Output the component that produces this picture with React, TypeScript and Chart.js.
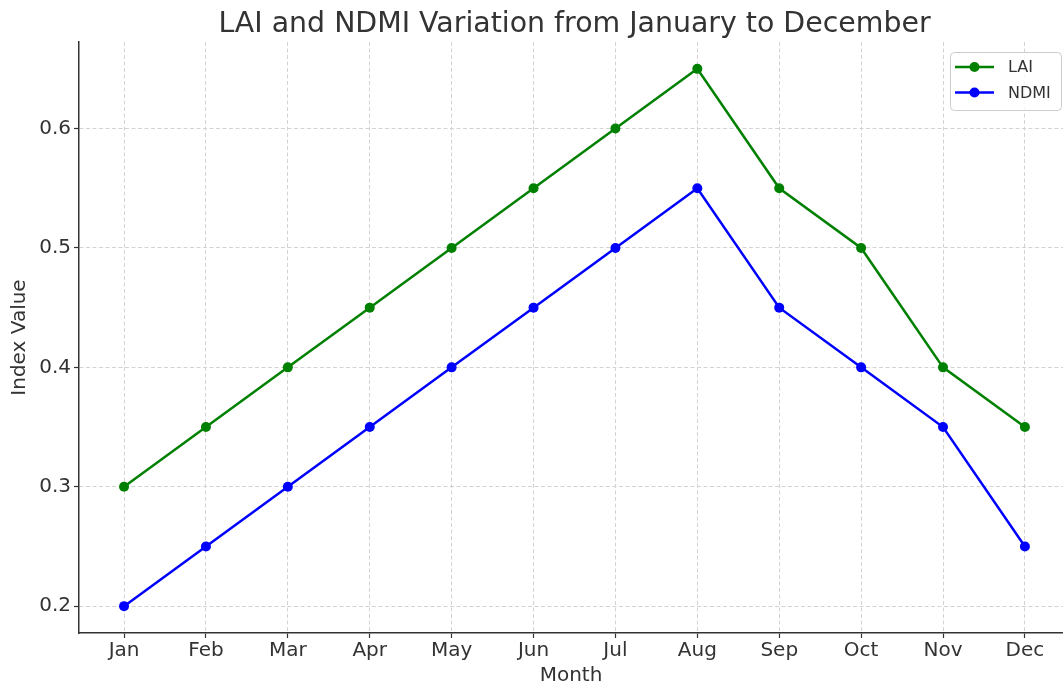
import React, { useEffect, useRef } from "react";
import { Chart, registerables } from "chart.js";

Chart.register(...registerables);

const months = ["Jan", "Feb", "Mar", "Apr", "May", "Jun", "Jul", "Aug", "Sep", "Oct", "Nov", "Dec"];
const laiValues = [0.3, 0.35, 0.4, 0.45, 0.5, 0.55, 0.6, 0.65, 0.55, 0.5, 0.4, 0.35];
const ndmiValues = [0.2, 0.25, 0.3, 0.35, 0.4, 0.45, 0.5, 0.55, 0.45, 0.4, 0.35, 0.25];
const yTickValues = [0.2, 0.3, 0.4, 0.5, 0.6];
const chartTitle = "LAI and NDMI Variation from January to December";

const FONT = "'DejaVu Sans', sans-serif";
const TEXT = "#333333";

const titlePlugin = {
  id: "mplTitle",
  afterDraw(chart: any) {
    const { ctx, chartArea } = chart;
    ctx.save();
    ctx.font = `28.4px ${FONT}`;
    ctx.fillStyle = TEXT;
    ctx.textAlign = "center";
    ctx.textBaseline = "alphabetic";
    ctx.fillText(chartTitle, (chartArea.left + 1070) / 2, 32);
    ctx.restore();
  },
};

const legendPlugin = {
  id: "mplLegend",
  afterDraw(chart: any) {
    const { ctx } = chart;
    const x0 = 950.5, y0 = 52.5, w = 111, h = 58, r = 4;
    ctx.save();
    ctx.beginPath();
    ctx.moveTo(x0 + r, y0);
    ctx.lineTo(x0 + w - r, y0);
    ctx.arcTo(x0 + w, y0, x0 + w, y0 + r, r);
    ctx.lineTo(x0 + w, y0 + h - r);
    ctx.arcTo(x0 + w, y0 + h, x0 + w - r, y0 + h, r);
    ctx.lineTo(x0 + r, y0 + h);
    ctx.arcTo(x0, y0 + h, x0, y0 + h - r, r);
    ctx.lineTo(x0, y0 + r);
    ctx.arcTo(x0, y0, x0 + r, y0, r);
    ctx.closePath();
    ctx.fillStyle = "rgba(255,255,255,0.8)";
    ctx.fill();
    ctx.strokeStyle = "#cccccc";
    ctx.lineWidth = 1;
    ctx.stroke();
    chart.data.datasets.forEach((ds: any, i: number) => {
      const cy = 67 + i * 25.5;
      ctx.strokeStyle = ds.borderColor;
      ctx.lineWidth = 2.5;
      ctx.beginPath();
      ctx.moveTo(955, cy);
      ctx.lineTo(994, cy);
      ctx.stroke();
      ctx.fillStyle = ds.borderColor;
      ctx.beginPath();
      ctx.arc(974.5, cy, 5, 0, Math.PI * 2);
      ctx.fill();
      ctx.fillStyle = TEXT;
      ctx.font = `16px ${FONT}`;
      ctx.textAlign = "left";
      ctx.textBaseline = "middle";
      ctx.fillText(ds.label, 1008, cy + 1);
    });
    ctx.restore();
  },
};

export default function App() {
  const canvasRef = useRef<HTMLCanvasElement | null>(null);

  useEffect(() => {
    document.body.style.margin = "0";
    if (!canvasRef.current) return;
    const chart = new Chart(canvasRef.current, {
      type: "line",
      data: {
        datasets: [
          {
            label: "LAI",
            data: laiValues.map((v, i) => ({ x: i, y: v })),
            borderColor: "#008000",
            backgroundColor: "#008000",
            pointBackgroundColor: "#008000",
            pointBorderWidth: 0,
            pointRadius: 5,
            borderWidth: 2.5,
            tension: 0,
          },
          {
            label: "NDMI",
            data: ndmiValues.map((v, i) => ({ x: i, y: v })),
            borderColor: "#0000ff",
            backgroundColor: "#0000ff",
            pointBackgroundColor: "#0000ff",
            pointBorderWidth: 0,
            pointRadius: 5,
            borderWidth: 2.5,
            tension: 0,
          },
        ],
      },
      options: {
        animation: false,
        responsive: true,
        maintainAspectRatio: false,
        layout: { autoPadding: false, padding: { top: 42, right: 0, left: 0, bottom: 0 } },
        plugins: {
          legend: { display: false },
          title: { display: false },
          tooltip: { enabled: false },
        },
        scales: {
          x: {
            type: "linear",
            min: -0.55,
            max: 11.465,
            afterBuildTicks: (scale: any) => {
              scale.ticks = months.map((_, i) => ({ value: i }));
            },
            afterFit: (scale: any) => {
              scale.height = 56;
            },
            ticks: {
              autoSkip: false,
              maxRotation: 0,
              callback: (v: any) => months[v as number] ?? "",
              font: { family: FONT, size: 20 },
              color: TEXT,
              padding: 1,
            },
            grid: {
              color: "#d3d3d3",
              lineWidth: 1,
              tickLength: 5,
              tickColor: "#333333",
              tickWidth: 1.2,
            },
            border: { display: true, color: "#333333", width: 1.5, dash: [4, 2.5] },
            title: {
              display: true,
              text: "Month",
              font: { family: FONT, size: 20 },
              color: TEXT,
              padding: { top: 0, bottom: 1 },
            },
          },
          y: {
            type: "linear",
            min: 0.1775,
            max: 0.6725,
            afterBuildTicks: (scale: any) => {
              scale.ticks = yTickValues.map((v) => ({ value: v }));
            },
            afterFit: (scale: any) => {
              scale.width = 79;
            },
            ticks: {
              callback: (v: any) => Number(v).toFixed(1),
              font: { family: FONT, size: 20 },
              color: TEXT,
              padding: 3,
            },
            grid: {
              color: "#d3d3d3",
              lineWidth: 1,
              tickLength: 5,
              tickColor: "#333333",
              tickWidth: 1.2,
            },
            border: { display: true, color: "#333333", width: 1.5, dash: [4, 2.5] },
            title: {
              display: true,
              text: "Index Value",
              font: { family: FONT, size: 20 },
              color: TEXT,
              padding: { top: 8, bottom: 0 },
            },
          },
        },
      },
      plugins: [titlePlugin, legendPlugin],
    } as any);
    return () => chart.destroy();
  }, []);

  return (
    <div style={{ width: 1063, height: 689, position: "relative" }}>
      <canvas ref={canvasRef} />
    </div>
  );
}
